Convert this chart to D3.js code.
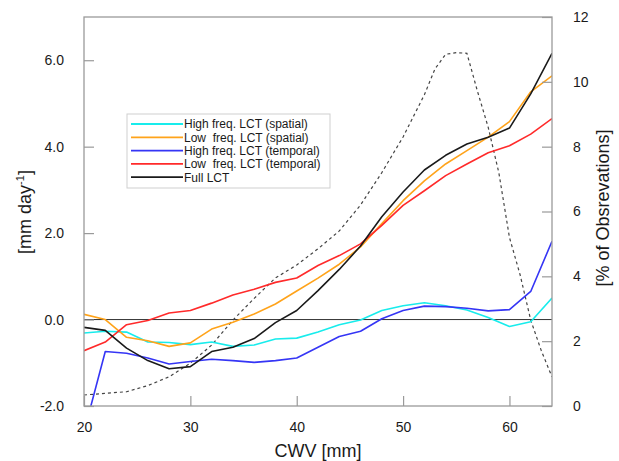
<!DOCTYPE html>
<html><head><meta charset="utf-8">
<script src="https://cdn.jsdelivr.net/npm/d3@7"></script>
<style>body{margin:0;background:#fff;} text{font-family:"Liberation Sans",Arial,Helvetica,sans-serif;fill:#1a1a1a;}</style>
</head><body><svg id="c" width="619" height="461"></svg>
<script>
const cwv = [20,22,24,26,28,30,32,34,36,38,40,42,44,46,48,50,52,54,56,58,60,62,64];
const highSpatial  = [-0.31,-0.27,-0.29,-0.52,-0.53,-0.58,-0.52,-0.62,-0.59,-0.45,-0.43,-0.29,-0.12,-0.01,0.21,0.32,0.39,0.32,0.22,0.05,-0.16,-0.05,0.50];
const lowSpatial   = [0.12,0.00,-0.41,-0.49,-0.62,-0.54,-0.22,-0.06,0.13,0.36,0.66,0.96,1.28,1.68,2.22,2.75,3.21,3.60,3.91,4.22,4.58,5.27,5.64];
const highTemporal = [-2.60,-0.74,-0.78,-0.89,-1.03,-0.97,-0.92,-0.95,-0.99,-0.95,-0.89,-0.64,-0.39,-0.27,0.02,0.21,0.31,0.30,0.26,0.20,0.23,0.65,1.81];
const lowTemporal  = [-0.72,-0.52,-0.12,-0.02,0.15,0.21,0.38,0.57,0.70,0.86,0.96,1.25,1.48,1.75,2.18,2.64,2.98,3.33,3.60,3.86,4.02,4.29,4.65];
const fullLCT      = [-0.18,-0.25,-0.66,-0.95,-1.14,-1.09,-0.74,-0.64,-0.44,-0.07,0.21,0.67,1.16,1.70,2.38,2.95,3.46,3.80,4.06,4.22,4.43,5.22,6.16];
const obsCwv = [20,22,24,26,28,30,32,34,36,38,40,42,44,46,48,50,52,53,54,55,56,57,58,59,60,61,62,63,64];
const obsPct = [0.34,0.39,0.44,0.63,0.90,1.32,1.88,2.65,3.32,3.95,4.35,4.85,5.40,6.20,7.20,8.30,9.60,10.40,10.85,10.90,10.88,9.70,8.60,7.20,5.20,4.05,2.65,1.70,0.90];
const seriesNames = ["High freq. LCT (spatial)","Low  freq. LCT (spatial)","High freq. LCT (temporal)","Low  freq. LCT (temporal)","Full LCT"];
const seriesColors = ["#18ecec","#ffa31a","#3535f5","#ff2a2a","#1a1a1a"];
const xTicks = [20,30,40,50,60];
const yTicks = [-2,0,2,4,6];
const y2Ticks = [0,2,4,6,8,10,12];

const allSeries = [highSpatial, lowSpatial, highTemporal, lowTemporal, fullLCT];
const L=84, R=552, T=17, B=406;
const svg = d3.select("#c");
const x = d3.scaleLinear().domain([20,64]).range([L,R]);
const y = d3.scaleLinear().domain([-2,7]).range([B,T]);
const y2 = d3.scaleLinear().domain([0,12]).range([B,T]);

svg.append("clipPath").attr("id","clip").append("rect").attr("x",L).attr("y",T).attr("width",R-L).attr("height",B-T);
const g = svg.append("g").attr("clip-path","url(#clip)");

// zero line
g.append("line").attr("x1",L).attr("x2",R).attr("y1",y(0)).attr("y2",y(0)).attr("stroke","#333").attr("stroke-width",1);

// observations dashed
g.append("path").datum(obsCwv.map((c,i)=>[c,obsPct[i]]))
 .attr("d", d3.line().x(d=>x(d[0])).y(d=>y2(d[1])))
 .attr("fill","none").attr("stroke","#444").attr("stroke-width",1.2).attr("stroke-dasharray","3,3");

const line = d3.line().x((d,i)=>x(cwv[i])).y(d=>y(d));
allSeries.forEach((s,k)=>{
  g.append("path").datum(s).attr("d",line).attr("fill","none")
   .attr("stroke",seriesColors[k]).attr("stroke-width",1.6).attr("stroke-linejoin","round");
});

// frame
const axCol="#9a9a9a";
svg.append("rect").attr("x",L).attr("y",T).attr("width",R-L).attr("height",B-T).attr("fill","none").attr("stroke",axCol).attr("stroke-width",1.3);

// axes
const gx = svg.append("g").attr("transform",`translate(0,${B})`)
  .call(d3.axisBottom(x).tickValues(xTicks).tickSizeInner(-10).tickSizeOuter(0).tickPadding(16).tickFormat(d3.format("d")));
const gy = svg.append("g").attr("transform",`translate(${L},0)`)
  .call(d3.axisLeft(y).tickValues(yTicks).tickSizeInner(-10).tickSizeOuter(0).tickPadding(20).tickFormat(d=>d.toFixed(1)));
const gy2 = svg.append("g").attr("transform",`translate(${R},0)`)
  .call(d3.axisRight(y2).tickValues(y2Ticks).tickSizeInner(-10).tickSizeOuter(0).tickPadding(21).tickFormat(d3.format("d")));
[gx,gy,gy2].forEach(a=>{
  a.select(".domain").remove();
  a.selectAll(".tick line").attr("stroke",axCol).attr("stroke-width",1.2);
  a.selectAll(".tick text").attr("font-size",14).style("fill","#1a1a1a").attr("font-family","Liberation Sans, Arial, sans-serif");
});

// axis titles
svg.append("text").attr("x",(L+R)/2).attr("y",457).attr("text-anchor","middle").attr("font-size",18).text("CWV [mm]");
const yl = svg.append("text").attr("transform","translate(31,212) rotate(-90)").attr("text-anchor","middle").attr("font-size",18);
yl.append("tspan").text("[mm day");
yl.append("tspan").attr("font-size",11).attr("dy",-7).text("-1");
yl.append("tspan").attr("dy",7).text("]");
svg.append("text").attr("transform","translate(609,208) rotate(-90)").attr("text-anchor","middle").attr("font-size",18).text("[% of Obsrevations]");

// legend
const lg = svg.append("g");
lg.append("rect").attr("x",127).attr("y",114).attr("width",203).attr("height",74).attr("fill","#fff").attr("stroke","#cfcfcf").attr("stroke-width",1);
seriesNames.forEach((n,k)=>{
  const yy = 124 + k*13.3;
  lg.append("line").attr("x1",131).attr("x2",183).attr("y1",yy).attr("y2",yy).attr("stroke",seriesColors[k]).attr("stroke-width",1.8);
  lg.append("text").attr("x",184).attr("y",yy+4.3).attr("font-size",12).attr("xml:space","preserve").style("white-space","pre").text(n);
});
</script></body></html>
